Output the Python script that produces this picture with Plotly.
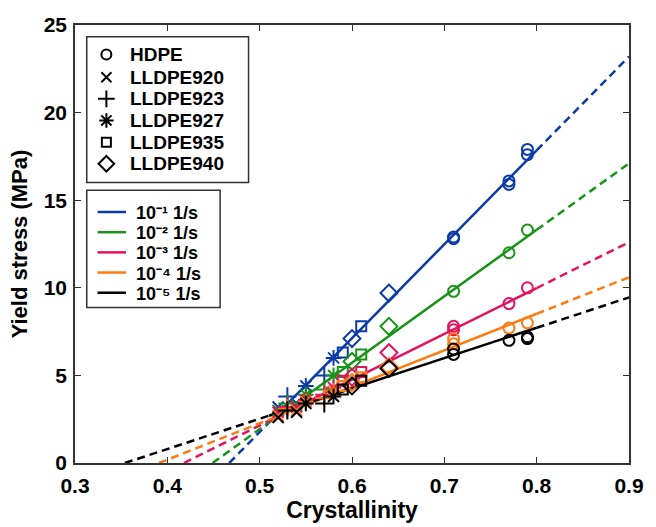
import plotly.graph_objects as go

# Strain-rate series (legend labels and colours)
rate_labels = ["10⁻¹ 1/s", "10⁻² 1/s", "10⁻³ 1/s", "10⁻⁴ 1/s", "10⁻⁵ 1/s"]
rate_colors = ["#0b3aa8", "#179417", "#e5135f", "#ff7a10", "#000000"]

# Materials and their marker symbols
materials = ["HDPE", "LLDPE920", "LLDPE923", "LLDPE927", "LLDPE935", "LLDPE940"]
material_symbols = ["circle-open", "x-thin-open", "cross-thin-open",
                    "asterisk-open", "square-open", "diamond-open"]
material_sizes = [11, 11, 13, 13, 10, 13]

# Measured points: material, crystallinity, yield stress (MPa) at each rate
point_material = ["HDPE"] * 6 + ["LLDPE920"] * 2 + ["LLDPE923"] * 2 + \
                 ["LLDPE927"] * 2 + ["LLDPE935"] * 2 + ["LLDPE940"] * 2
point_cryst = [0.71, 0.71, 0.77, 0.77, 0.79, 0.79,
               0.52, 0.54, 0.53, 0.57, 0.55, 0.58,
               0.59, 0.61, 0.60, 0.64]
stress_rate1 = [12.8, 12.9, 15.9, 16.1, 17.6, 17.9,
                3.2, 3.4, 3.8, 5.0, 4.4, 6.0, 6.3, 7.8, 7.1, 9.7]
stress_rate2 = [9.8, None, 12.0, None, 13.3, None,
                3.0, 3.3, 3.4, 4.2, 3.9, 5.0, 5.2, 6.2, 5.8, 7.8]
stress_rate3 = [7.6, 7.8, 9.1, None, 10.0, None,
                2.9, 3.2, 3.2, 3.9, 3.6, 4.3, 4.7, 5.2, 4.9, 6.3]
stress_rate4 = [6.8, 7.1, 7.7, None, 8.0, None,
                2.7, 3.0, 3.1, 3.7, 3.5, 4.1, 4.4, 4.9, 4.6, 5.5]
stress_rate5 = [6.2, 6.5, 7.0, None, 7.1, 7.2,
                2.6, 2.9, 3.0, 3.4, 3.4, 3.8, 4.2, 4.7, 4.4, 5.4]
stress_by_rate = [stress_rate1, stress_rate2, stress_rate3, stress_rate4, stress_rate5]

# Linear fits: crystallinity where stress is zero, and stress at crystallinity 0.9
fit_zero_cryst = [0.467, 0.449, 0.418, 0.391, 0.354]
fit_stress_end = [23.2, 17.1, 12.6, 10.6, 9.45]
fit_solid_range = [0.51, 0.80]
x_end = 0.9

FONT = "Liberation Sans"
AXIS_COLOR = "#333333"

# Plot-area geometry in pixels, used to place the two legend boxes
W, H = 656, 527
M_L, M_R, M_T, M_B = 75, 16, 25, 57
PW, PH = W - M_L - M_R, H - M_T - M_B


def px_x(px):
    return (px - M_L) / PW


def px_y(py):
    return (H - M_B - py) / PH


fig = go.Figure()


def fit_value(x, x0, y_end):
    return y_end * (x - x0) / (x_end - x0)


# Fit lines: solid over the data range, dashed extrapolation on both sides
for color, x0, y_end in zip(rate_colors, fit_zero_cryst, fit_stress_end):
    a, b = fit_solid_range
    dashed = dict(color=color, width=2.5, dash="8px,5px")
    fig.add_trace(go.Scatter(x=[x0, a], y=[0, fit_value(a, x0, y_end)], mode="lines",
                             line=dashed, hoverinfo="skip"))
    fig.add_trace(go.Scatter(x=[b, x_end], y=[fit_value(b, x0, y_end), y_end], mode="lines",
                             line=dashed, hoverinfo="skip"))
    fig.add_trace(go.Scatter(x=[a, b], y=[fit_value(a, x0, y_end), fit_value(b, x0, y_end)],
                             mode="lines", line=dict(color=color, width=2.5)))

# Data points, one trace per rate and material
for color, stresses in zip(rate_colors, stress_by_rate):
    for mat, sym, size in zip(materials, material_symbols, material_sizes):
        xs = [c for m, c, s in zip(point_material, point_cryst, stresses) if m == mat and s is not None]
        ys = [s for m, s in zip(point_material, stresses) if m == mat and s is not None]
        fig.add_trace(go.Scatter(
            x=xs, y=ys, mode="markers",
            marker=dict(symbol=sym, size=size, color=color, line=dict(width=2, color=color))))

# ---- Legends: boxes, sample marks and labels on an overlay in paper units ----
mat_box = (87, 37, 252, 185)
mat_rows = [55, 78, 100, 122, 144, 166]
mat_sym_x, mat_text_x = 107, 130
rate_box = (87, 193, 223, 312)
rate_rows = [215, 235.5, 256, 276.5, 297]
rate_line_x = (98, 127)
rate_text_x = 136

shapes = []
for x0p, y0p, x1p, y1p in (mat_box, rate_box):
    shapes.append(dict(type="rect", xref="paper", yref="paper",
                       x0=px_x(x0p), x1=px_x(x1p), y0=px_y(y1p), y1=px_y(y0p),
                       line=dict(color=AXIS_COLOR, width=1.5), fillcolor="white", layer="below"))

annotations = []
for mat, sym, size, row in zip(materials, material_symbols, material_sizes, mat_rows):
    fig.add_trace(go.Scatter(
        x=[px_x(mat_sym_x)], y=[px_y(row)], xaxis="x2", yaxis="y2", mode="markers",
        marker=dict(symbol=sym, size=size - 1, color="black", line=dict(width=2, color="black")),
        cliponaxis=False, hoverinfo="skip"))
    annotations.append(dict(text=mat, xref="paper", yref="paper",
                            x=px_x(mat_text_x), y=px_y(row), xanchor="left", yanchor="middle",
                            showarrow=False, borderpad=0,
                            font=dict(family=FONT, size=19, color="black", weight="bold")))

for label, color, row in zip(rate_labels, rate_colors, rate_rows):
    fig.add_trace(go.Scatter(
        x=[px_x(rate_line_x[0]), px_x(rate_line_x[1])], y=[px_y(row), px_y(row)],
        xaxis="x2", yaxis="y2", mode="lines", line=dict(color=color, width=2.5),
        cliponaxis=False, hoverinfo="skip"))
    annotations.append(dict(text=label, xref="paper", yref="paper",
                            x=px_x(rate_text_x), y=px_y(row + 1), xanchor="left", yanchor="middle",
                            showarrow=False, borderpad=0,
                            font=dict(family=FONT, size=18, color="black", weight="bold")))

axis_common = dict(
    showgrid=False, zeroline=False, showline=True, linecolor=AXIS_COLOR, linewidth=1.5,
    mirror="ticks", ticks="inside", ticklen=6, tickwidth=1.2, tickcolor=AXIS_COLOR,
    tickfont=dict(family=FONT, size=21, color="black", weight="bold"),
)

fig.update_layout(
    width=W, height=H,
    margin=dict(l=M_L, r=M_R, t=M_T, b=M_B),
    paper_bgcolor="white", plot_bgcolor="white",
    showlegend=False,
    font=dict(family=FONT, color="black", weight="bold"),
    xaxis=dict(range=[0.3, 0.9], tickvals=[0.3, 0.4, 0.5, 0.6, 0.7, 0.8, 0.9],
               tickformat=".1f", ticklabelstandoff=3,
               title=dict(text="Crystallinity", standoff=2,
                          font=dict(family=FONT, size=23, color="black", weight="bold")),
               **axis_common),
    yaxis=dict(range=[0, 25], tickvals=[0, 5, 10, 15, 20, 25], ticklabelstandoff=2,
               title=dict(text="Yield stress (MPa)", standoff=10,
                          font=dict(family=FONT, size=22, color="black", weight="bold")),
               **axis_common),
    xaxis2=dict(range=[0, 1], overlaying="x", visible=False, fixedrange=True),
    yaxis2=dict(range=[0, 1], overlaying="y", visible=False, fixedrange=True),
    shapes=shapes,
    annotations=annotations,
)

fig.write_html("out.html")
